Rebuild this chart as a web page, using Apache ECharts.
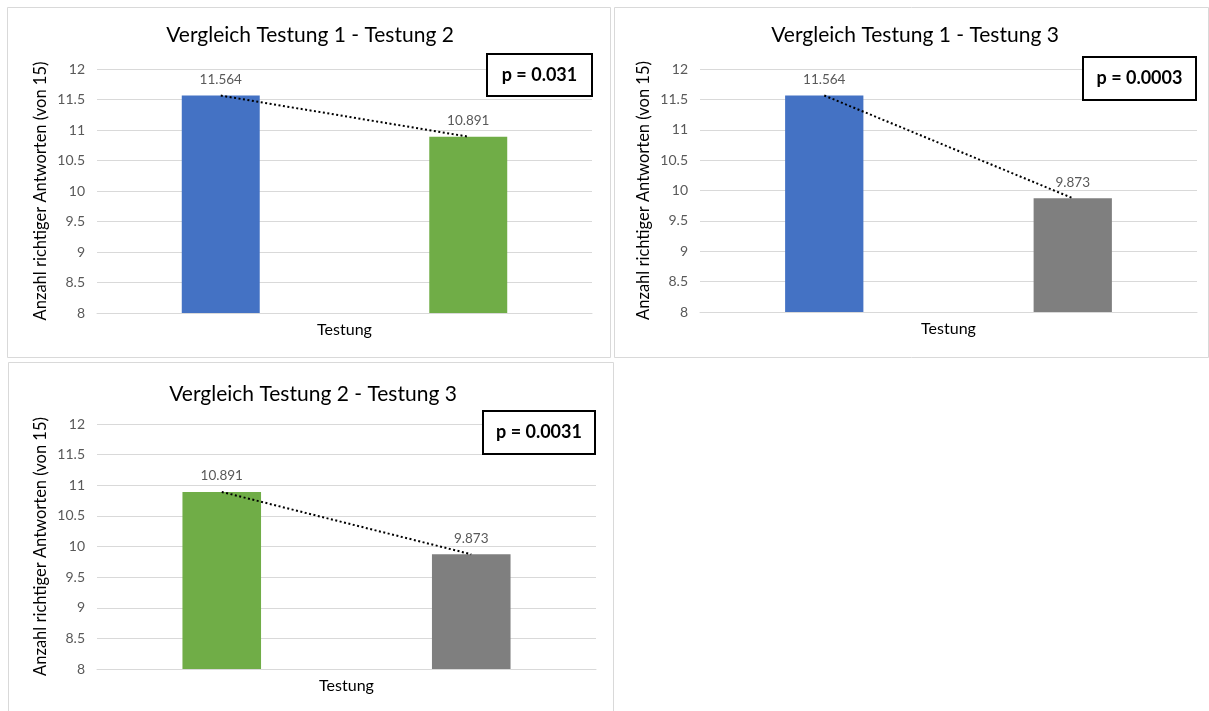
<!DOCTYPE html>
<html>
<head>
<meta charset="utf-8">
<script src="https://cdn.jsdelivr.net/npm/echarts@6/dist/echarts.min.js"></script>
<style>
html,body{margin:0;padding:0;background:#fff;}
#main{width:1209px;height:711px;}
</style>
</head>
<body>
<div id="main"></div>
<script>
// ---- data ----
const chartTitles = ['Vergleich Testung 1 - Testung 2', 'Vergleich Testung 1 - Testung 3', 'Vergleich Testung 2 - Testung 3'];
const chart1Categories = ['Testung 1', 'Testung 2'];
const chart1Values = [11.564, 10.891];
const chart2Categories = ['Testung 1', 'Testung 3'];
const chart2Values = [11.564, 9.873];
const chart3Categories = ['Testung 2', 'Testung 3'];
const chart3Values = [10.891, 9.873];
const pValueLabels = ['p = 0.031', 'p = 0.0003', 'p = 0.0031'];
const yTickMin = 8, yTickMax = 12, yTickStep = 0.5;
const xAxisName = 'Testung';
const yAxisName = 'Anzahl richtiger Antworten (von 15)';

// ---- styles ----
const FONT = 'Lato, "Open Sans", sans-serif';
const colorMap = {'Testung 1': '#4472C4', 'Testung 2': '#70AD47', 'Testung 3': '#7F7F7F'};
const cats = [chart1Categories, chart2Categories, chart3Categories];
const vals = [chart1Values, chart2Values, chart3Values];

const grids = [
  {left: 97, top: 69, width: 495, height: 244},
  {left: 700, top: 69, width: 497, height: 243},
  {left: 97, top: 424, width: 499, height: 245}
];
const titlePos = [
  {left: 310, top: 25},
  {left: 915, top: 25},
  {left: 313, top: 384}
];
const panels = [
  {x: 7.5, y: 7.5, width: 603, height: 350},
  {x: 614.5, y: 7.5, width: 594, height: 350},
  {x: 8.5, y: 362.5, width: 605, height: 360}
];
const pBoxes = [
  {x: 487, y: 54, width: 105, height: 42},
  {x: 1083, y: 57, width: 113, height: 43},
  {x: 483, y: 411, width: 112, height: 43}
];

const option = {
  backgroundColor: '#fff',
  animation: false,
  textStyle: {fontFamily: FONT},
  title: chartTitles.map((t, i) => ({
    text: t,
    left: titlePos[i].left,
    top: titlePos[i].top,
    textAlign: 'center',
    padding: 0,
    textStyle: {fontFamily: FONT, fontSize: 21, fontWeight: 'normal', color: '#000'}
  })),
  grid: grids.map(g => Object.assign({containLabel: false}, g)),
  xAxis: cats.map((c, i) => ({
    type: 'category',
    gridIndex: i,
    data: c,
    name: xAxisName,
    nameLocation: 'middle',
    nameGap: 9,
    nameTextStyle: {fontFamily: FONT, fontSize: 16, color: '#000'},
    axisLine: {show: true, lineStyle: {color: '#d9d9d9', width: 1}},
    axisTick: {show: false},
    axisLabel: {show: false}
  })),
  yAxis: cats.map((c, i) => ({
    type: 'value',
    gridIndex: i,
    min: yTickMin,
    max: yTickMax,
    interval: yTickStep,
    name: yAxisName,
    nameLocation: 'middle',
    nameGap: 48,
    nameTextStyle: {fontFamily: FONT, fontSize: 16.5, color: '#000'},
    axisLine: {show: false},
    axisTick: {show: false},
    axisLabel: {fontFamily: FONT, fontSize: 14, color: '#595959', margin: 12},
    splitLine: {lineStyle: {color: '#d9d9d9', width: 1}}
  })),
  series: [],
  graphic: []
};

cats.forEach((c, i) => {
  option.series.push({
    type: 'bar',
    xAxisIndex: i,
    yAxisIndex: i,
    barWidth: '31.5%',
    data: vals[i].map((v, k) => ({value: v, itemStyle: {color: colorMap[c[k]]}})),
    label: {
      show: true,
      position: 'top',
      distance: 9,
      fontFamily: FONT,
      fontSize: 13.5,
      color: '#595959',
      formatter: p => p.value.toFixed(3)
    },
    z: 2
  });
  option.series.push({
    type: 'line',
    xAxisIndex: i,
    yAxisIndex: i,
    data: vals[i],
    symbol: 'none',
    lineStyle: {color: '#000', width: 2, type: [2, 2.5]},
    z: 5
  });
});

panels.forEach(p => {
  option.graphic.push({
    type: 'rect',
    shape: {x: p.x, y: p.y, width: p.width, height: p.height},
    style: {fill: 'none', stroke: '#d9d9d9', lineWidth: 1},
    z: 0
  });
});
pBoxes.forEach((b, i) => {
  option.graphic.push({
    type: 'rect',
    shape: {x: b.x, y: b.y, width: b.width, height: b.height},
    style: {fill: '#fff', stroke: '#000', lineWidth: 2},
    z: 10
  });
  option.graphic.push({
    type: 'text',
    x: b.x + b.width / 2,
    y: b.y + b.height / 2,
    style: {
      text: pValueLabels[i],
      fontFamily: FONT,
      fontSize: 18,
      fontWeight: 'bold',
      fill: '#000',
      align: 'center',
      verticalAlign: 'middle'
    },
    z: 11
  });
});

const chart = echarts.init(document.getElementById('main'), null, {renderer: 'canvas'});
chart.setOption(option);
</script>
</body>
</html>
